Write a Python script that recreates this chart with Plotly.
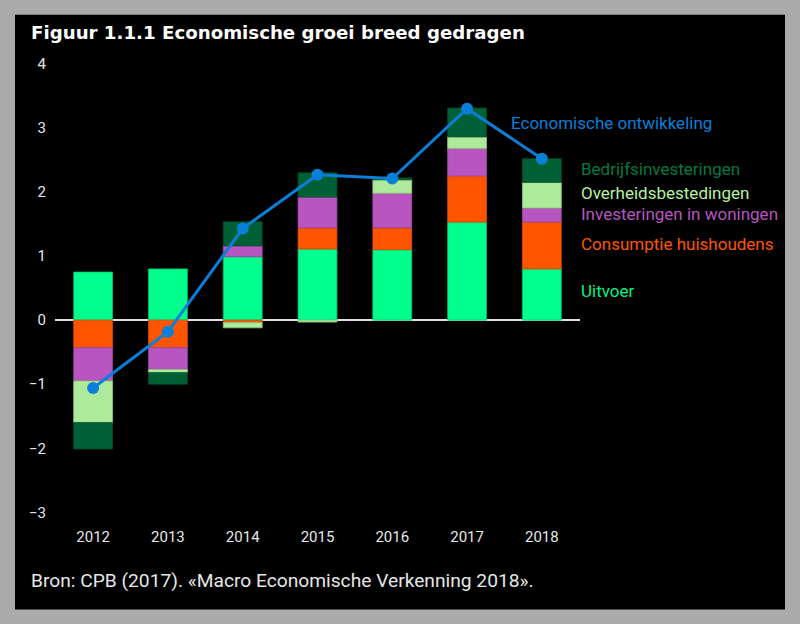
import plotly.graph_objects as go

years = [2012, 2013, 2014, 2015, 2016, 2017, 2018]
uitvoer = [0.75, 0.80, 0.99, 1.11, 1.10, 1.53, 0.80]
consumptie = [-0.43, -0.43, -0.035, 0.33, 0.34, 0.72, 0.73]
woningen = [-0.52, -0.34, 0.17, 0.48, 0.54, 0.43, 0.22]
overheid = [-0.65, -0.05, -0.085, -0.03, 0.21, 0.18, 0.40]
bedrijf = [-0.41, -0.18, 0.375, 0.38, 0.03, 0.45, 0.37]
ontwikkeling = [-1.06, -0.18, 1.43, 2.27, 2.21, 3.30, 2.52]

series = [
    ("Uitvoer", uitvoer, "#00ff8c", "#00c06a"),
    ("Consumptie huishoudens", consumptie, "#ff5500", "#d94800"),
    ("Investeringen in woningen", woningen, "#b855c0", "#9a45a2"),
    ("Overheidsbestedingen", overheid, "#aeea9b", "#8cc87a"),
    ("Bedrijfsinvesteringen", bedrijf, "#006035", "#004a28"),
]
label_y = {
    "Bedrijfsinvesteringen": 2.36,
    "Overheidsbestedingen": 1.99,
    "Investeringen in woningen": 1.66,
    "Consumptie huishoudens": 1.19,
    "Uitvoer": 0.45,
}
label_color = {
    "Bedrijfsinvesteringen": "#007a40",
    "Overheidsbestedingen": "#b6f0a2",
    "Investeringen in woningen": "#b855c0",
    "Consumptie huishoudens": "#ff5500",
    "Uitvoer": "#00f085",
}
line_color = "#0a7fd8"

W, H = 800, 624
L, R, T, B = 55, 220, 51.2, 102.4
pw, ph = W - L - R, H - T - B


def px_x(x):
    return (x - L) / pw


def px_y(y):
    return (H - B - y) / ph


fig = go.Figure()
for name, vals, col, edge in series:
    fig.add_trace(go.Bar(x=years, y=vals, name=name, width=0.52,
                         marker=dict(color=col, line=dict(color=edge, width=0.8))))
fig.add_trace(go.Scatter(x=years, y=ontwikkeling, mode="lines+markers",
                         name="Economische ontwikkeling",
                         line=dict(color=line_color, width=3),
                         marker=dict(color=line_color, size=12)))

fig.update_layout(
    width=W, height=H,
    barmode="relative",
    showlegend=False,
    paper_bgcolor="#ababab",
    plot_bgcolor="#000000",
    margin=dict(l=L, r=R, t=T, b=B, pad=0),
    font=dict(family="Roboto", color="#e6e6e6", size=15),
    xaxis=dict(range=[2011.49, 2018.51], tickvals=years, ticktext=[str(y) for y in years],
               showgrid=False, zeroline=False, showline=False, ticks="",
               tickfont=dict(size=15, color="#e6e6e6"), ticklabelstandoff=4),
    yaxis=dict(range=[-3.15, 4.2], tickvals=[-3, -2, -1, 0, 1, 2, 3, 4],
               showgrid=False, zeroline=True, zerolinecolor="#e0e0e0", zerolinewidth=2,
               showline=False, ticks="", tickfont=dict(size=15, color="#e6e6e6"),
               ticklabelstandoff=8),
    shapes=[dict(type="rect", xref="paper", yref="paper", layer="below",
                 x0=px_x(15), x1=px_x(785), y0=px_y(609), y1=px_y(15),
                 fillcolor="#000000", line=dict(width=0))],
)

annotations = [
    dict(text="<b>Figuur 1.1.1 Economische groei breed gedragen</b>", xref="paper", yref="paper",
         x=px_x(29), y=px_y(33), xanchor="left", yanchor="middle", showarrow=False,
         font=dict(family="DejaVu Sans", size=18.2, color="#ffffff")),
    dict(text="Bron: CPB (2017). «Macro Economische Verkenning 2018».", xref="paper", yref="paper",
         x=px_x(29), y=px_y(580), xanchor="left", yanchor="middle", showarrow=False,
         font=dict(family="Roboto", size=19.2, color="#e6e6e6")),
    dict(text="Economische ontwikkeling", xref="paper", yref="y", x=px_x(509), y=3.08,
         xanchor="left", yanchor="middle", showarrow=False,
         font=dict(family="Roboto", size=17, color=line_color)),
]
for name, yv in label_y.items():
    annotations.append(dict(text=name, xref="paper", yref="y", x=px_x(579), y=yv,
                            xanchor="left", yanchor="middle", showarrow=False,
                            font=dict(family="Roboto", size=17, color=label_color[name])))
fig.update_layout(annotations=annotations)

fig.write_html("out.html",
               config={"displayModeBar": False},
               post_script="document.body.style.margin='0px';document.body.style.overflow='hidden';")
